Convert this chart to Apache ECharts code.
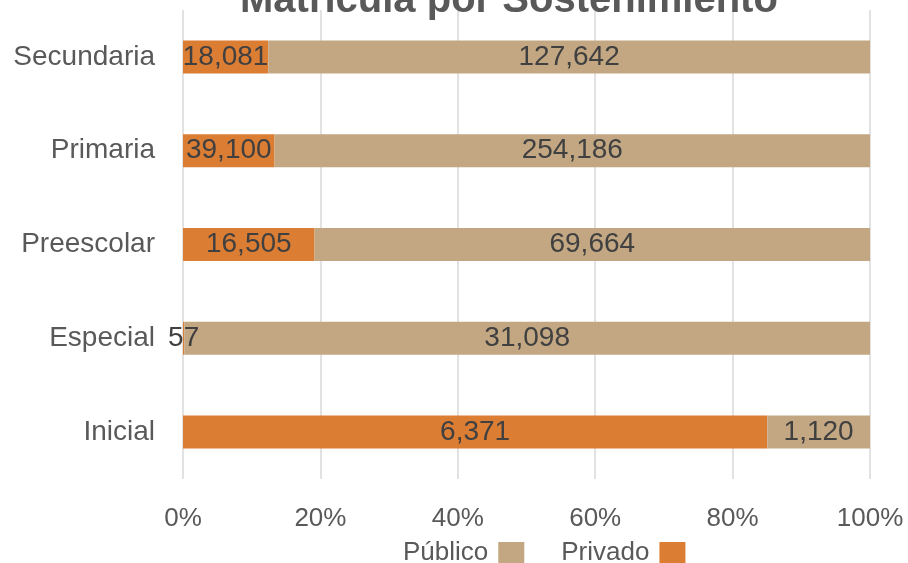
<!DOCTYPE html>
<html><head><meta charset="utf-8">
<script src="https://cdn.jsdelivr.net/npm/echarts@6/dist/echarts.min.js"></script>
<style>html,body{margin:0;padding:0;background:#fff}#c{width:908px;height:563px}</style>
</head><body><div id="c"></div>
<script>
const categories = ['Inicial', 'Especial', 'Preescolar', 'Primaria', 'Secundaria'];
const privado = [6371, 57, 16505, 39100, 18081];
const publico = [1120, 31098, 69664, 254186, 127642];
const xTicks = ['0%', '20%', '40%', '60%', '80%', '100%'];

const totals = categories.map((c, i) => privado[i] + publico[i]);
const pct = arr => arr.map((v, i) => v / totals[i] * 100);
const fmt = v => v.toLocaleString('en-US');
const FONT = 'Liberation Sans, Arial, sans-serif';

const chart = echarts.init(document.getElementById('c'), null, {renderer: 'canvas'});
chart.setOption({
  backgroundColor: '#ffffff',
  animation: false,
  title: {
    text: 'Matrícula por Sostenimiento',
    left: 235, top: -24,
    textStyle: {fontFamily: FONT, fontSize: 40, fontWeight: 'bold', color: '#595959'}
  },
  legend: {
    data: ['Público', 'Privado'],
    top: 535, left: 398,
    align: 'right',
    itemWidth: 26, itemHeight: 22, itemGap: 37,
    icon: 'rect',
    textStyle: {fontFamily: FONT, fontSize: 26, color: '#595959', padding: [0, 5, 0, 0]}
  },
  grid: {left: 183, right: 38, top: 10, bottom: 84},
  xAxis: {
    type: 'value', min: 0, max: 100, interval: 20,
    axisLabel: {
      formatter: v => xTicks[Math.round(v / 20)],
      fontFamily: FONT, fontSize: 26, color: '#595959', margin: 27
    },
    axisLine: {show: false}, axisTick: {show: false},
    splitLine: {lineStyle: {color: '#D9D9D9', width: 1.5}}
  },
  yAxis: {
    type: 'category', data: categories,
    axisLabel: {fontFamily: FONT, fontSize: 28, color: '#595959', margin: 28},
    axisLine: {show: false}, axisTick: {show: false}
  },
  series: [
    {
      name: 'Privado', type: 'bar', stack: 't', barWidth: 33,
      data: pct(privado),
      itemStyle: {color: '#DC7D34'},
      label: {show: true, position: 'inside', formatter: p => fmt(privado[p.dataIndex]),
        fontFamily: FONT, fontSize: 28, color: '#404040'}
    },
    {
      name: 'Público', type: 'bar', stack: 't', barWidth: 33,
      data: pct(publico),
      itemStyle: {color: '#C2A782'},
      label: {show: true, position: 'inside', formatter: p => fmt(publico[p.dataIndex]),
        fontFamily: FONT, fontSize: 28, color: '#404040'}
    }
  ]
});
</script></body></html>
